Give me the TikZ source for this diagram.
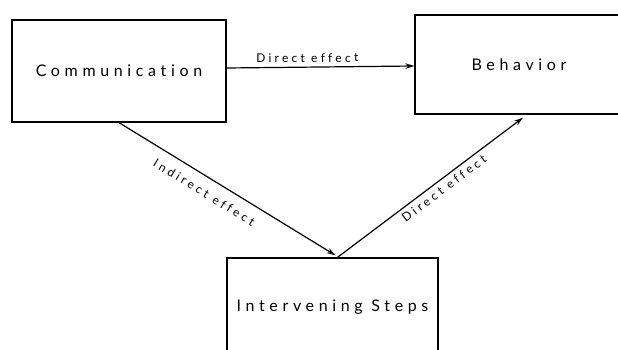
\documentclass[tikz,border=0pt]{standalone}
\usepackage{fontspec}
\setmainfont{Lato}
\newfontfamily\boxfont[LetterSpace=29,Ligatures=NoCommon]{Lato}
\newfontfamily\labfont[LetterSpace=27,Ligatures=NoCommon]{Lato}
\usetikzlibrary{arrows.meta}
\begin{document}
\begin{tikzpicture}[x=1pt,y=-1pt,
  blk/.style={draw=black, line width=1.3pt, inner sep=0pt, font=\boxfont\fontsize{16}{18}\selectfont},
  arr/.style={line width=1.2pt, -{Stealth[open, length=9pt, width=5.5pt, line width=1pt]}},
  lab/.style={font=\labfont\fontsize{12}{14}\selectfont, inner sep=0pt, sloped}]
\useasboundingbox (0,0) rectangle (618,350);
\clip (0,0) rectangle (618,350);
\node[blk, minimum width=214pt, minimum height=102pt] (comm) at (119,71) {Communication};
\node[blk, minimum width=208pt, minimum height=99pt] (beh) at (519,64.5) {Behavior};
\node[blk, minimum width=211pt, minimum height=98pt] (steps) at (332.5,307) {Intervening Steps};
\draw[arr] ([yshift=3pt]comm.east) -- node[lab, pos=0.43, above=4pt] {Direct effect} ([yshift=-1.5pt]beh.west);
\draw[arr] (comm.south) -- node[lab, pos=0.43, below=10pt] {Indirect effect} ([xshift=3pt,yshift=2pt]steps.north);
\draw[arr] ([xshift=5pt]steps.north) -- node[lab, pos=0.545, below=4pt] {Direct effect} ([xshift=4pt,yshift=-3pt]beh.south);
\end{tikzpicture}
\end{document}
